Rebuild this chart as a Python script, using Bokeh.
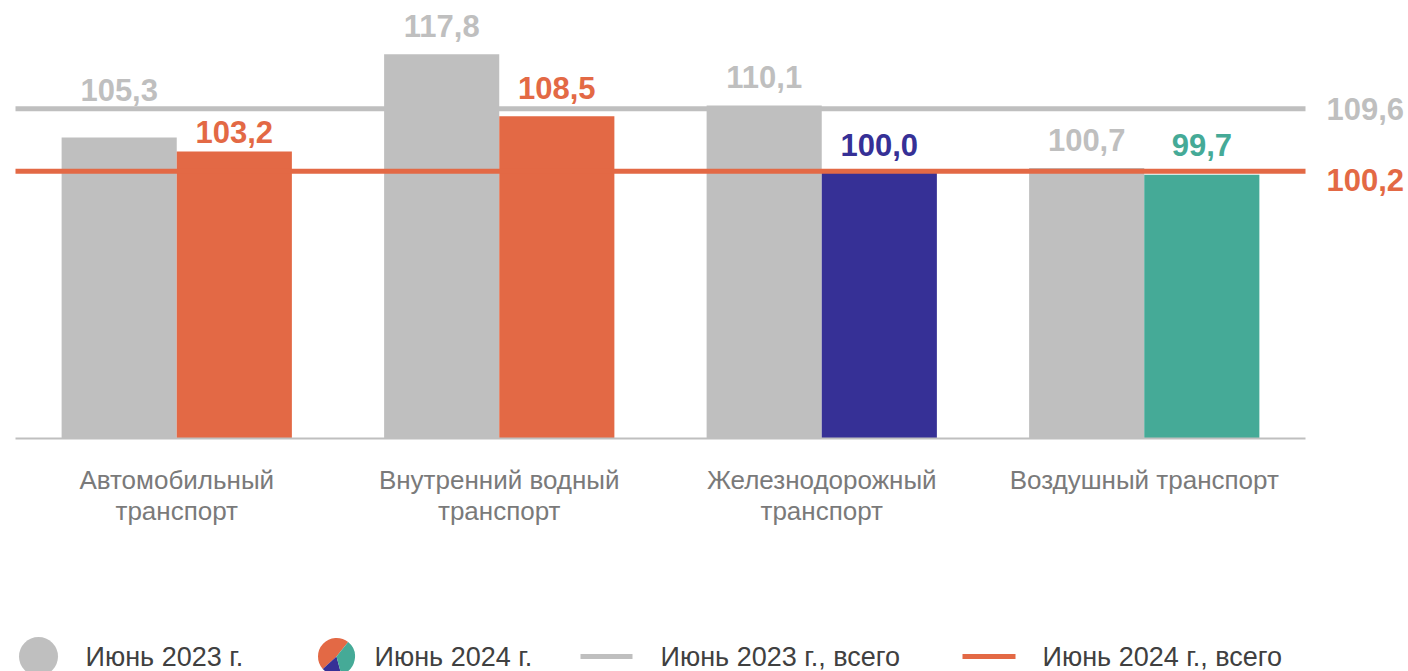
from bokeh.plotting import figure
from bokeh.models import Range1d, ColumnDataSource
from bokeh.layouts import column
from bokeh.embed import file_html
from bokeh.resources import INLINE
from bokeh.core.properties import value

# ---------------- data ----------------
categories = ["Автомобильный\nтранспорт", "Внутренний водный\nтранспорт",
              "Железнодорожный\nтранспорт", "Воздушный транспорт"]
june_2023 = [105.3, 117.8, 110.1, 100.7]
june_2024 = [103.2, 108.5, 100.0, 99.7]
total_2023 = 109.6
total_2024 = 100.2
legend_labels = ["Июнь 2023 г.", "Июнь 2024 г.", "Июнь 2023 г., всего", "Июнь 2024 г., всего"]

# ---------------- style ----------------
GRAY = "#bfbfbf"
ORANGE = "#e36945"
NAVY = "#363096"
TEAL = "#45aa97"
colors_2024 = [ORANGE, ORANGE, NAVY, TEAL]
FONT = "Liberation Sans"
off_2023 = [47, 28, 29, 28]   # label centre above bar top, px
off_2024 = [19, 28, 28, 30]

W = 1408
H_MAIN = 591
H_LEG = 80
Y0, Y1 = 60, 125
PAD_T, PAD_B, PAD_L, PAD_R = 6, 153, 15, 103
n = len(categories)
XS = (W - PAD_L - PAD_R) / n           # px per category
YS = (H_MAIN - PAD_T - PAD_B) / (Y1 - Y0)  # px per unit

centers = [i + 0.5 for i in range(n)]
bw = 0.357
fmt = lambda v: f"{v:.1f}".replace(".", ",")

p = figure(width=W, height=H_MAIN,
           x_range=Range1d(-PAD_L / XS, n + PAD_R / XS),
           y_range=Range1d(Y0 - PAD_B / YS, Y1 + PAD_T / YS),
           output_backend="svg", toolbar_location=None,
           min_border_left=0, min_border_right=0, min_border_top=0, min_border_bottom=0)
p.axis.visible = False
p.grid.visible = False
p.outline_line_color = None

src = ColumnDataSource(dict(
    x23=[c - bw / 2 for c in centers], x24=[c + bw / 2 for c in centers],
    v23=june_2023, v24=june_2024, c24=colors_2024,
    t23=[fmt(v) for v in june_2023], t24=[fmt(v) for v in june_2024],
    y23=[v + o / YS for v, o in zip(june_2023, off_2023)],
    y24=[v + o / YS for v, o in zip(june_2024, off_2024)],
))

p.vbar(x="x23", top="v23", bottom=Y0, width=bw, source=src, fill_color=GRAY, line_color=None)
p.vbar(x="x24", top="v24", bottom=Y0, width=bw, source=src, fill_color="c24", line_color=None)

# baseline and totals
p.segment(x0=[0], y0=[Y0], x1=[n], y1=[Y0], line_color=GRAY, line_width=2)
p.segment(x0=[0, 0], y0=[total_2023, total_2024], x1=[n, n], y1=[total_2023, total_2024],
          line_color=[GRAY, ORANGE], line_width=5)

tkw = dict(text_align="center", text_baseline="middle", text_font=value(FONT),
           text_font_style="bold", text_font_size="31px")
p.text(x="x23", y="y23", text="t23", source=src, text_color=GRAY, **tkw)
p.text(x="x24", y="y24", text="t24", source=src, text_color="c24", **tkw)

# right-side total labels
p.text(x=[n + 21 / XS] * 2, y=[total_2023, total_2024 - 9 / YS],
       text=[fmt(total_2023), fmt(total_2024)], text_color=[GRAY, ORANGE],
       text_align="left", text_baseline="middle", text_font=value(FONT),
       text_font_style="bold", text_font_size="31px")

# category labels
line1 = [c.split("\n")[0] for c in categories]
line2 = [c.split("\n")[1] if "\n" in c else "" for c in categories]
ckw = dict(text_align="center", text_baseline="middle", text_font=value(FONT),
           text_font_size="26px", text_color="#7a7a7a")
p.text(x=centers, y=[Y0 - 41 / YS] * n, text=line1, **ckw)
p.text(x=centers, y=[Y0 - 72 / YS] * n, text=line2, **ckw)

# ---------------- legend ----------------
lg = figure(width=W, height=H_LEG, x_range=Range1d(0, W), y_range=Range1d(0, H_LEG),
            output_backend="svg", toolbar_location=None,
            min_border_left=0, min_border_right=0, min_border_top=0, min_border_bottom=0)
lg.axis.visible = False
lg.grid.visible = False
lg.outline_line_color = None

ly = 15
lg.circle(x=[38], y=[ly], radius=19.5, fill_color=GRAY, line_color=None)
lg.wedge(x=[336, 336, 336], y=[ly] * 3, radius=18.5,
         start_angle=[51, 222, 285], end_angle=[222, 285, 411], start_angle_units="deg",
         end_angle_units="deg", fill_color=[ORANGE, NAVY, TEAL], line_color=None)
lg.segment(x0=[580, 962], y0=[ly, ly], x1=[632, 1015], y1=[ly, ly],
           line_color=[GRAY, ORANGE], line_width=5)
lg.text(x=[85, 374, 660, 1042], y=[15] * 4, text=legend_labels, text_align="left",
        text_baseline="middle", text_font=value(FONT), text_font_size="27px",
        text_color="#404040")

layout = column(p, lg, spacing=0)
open("out.html", "w").write(file_html(layout, INLINE))
